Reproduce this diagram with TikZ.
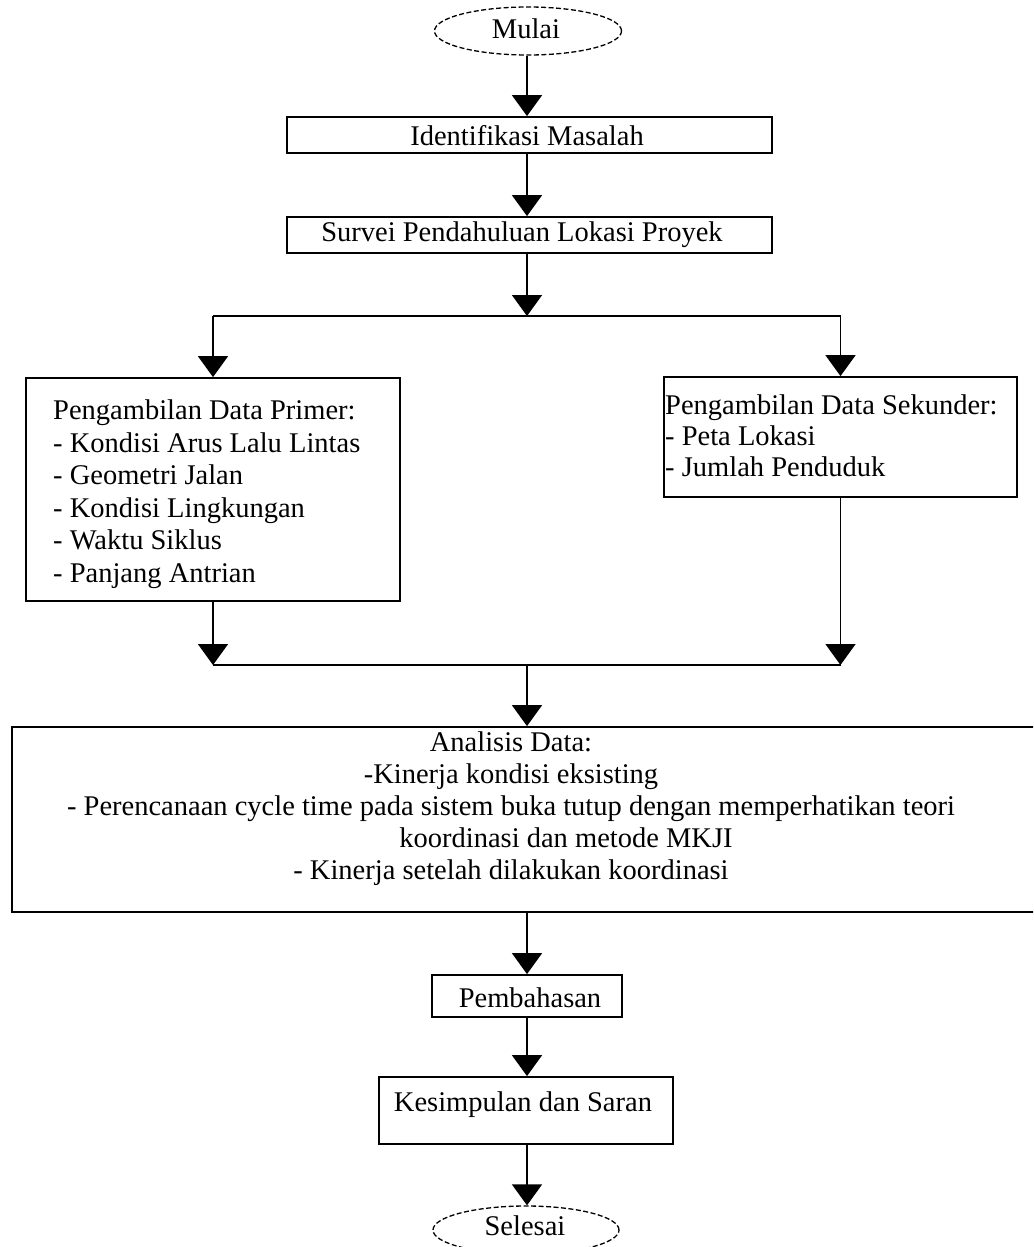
\documentclass[tikz,border=0pt]{standalone}
\usepackage{fontspec}
\setmainfont[Ligatures={NoCommon}]{Liberation Serif}
\usetikzlibrary{arrows.meta,shapes.geometric}
\tikzset{
  box/.style={draw=black, line width=1.8pt, rectangle, inner sep=0pt},
  term/.style={draw=black, line width=1.3pt, ellipse, inner sep=0pt, dash pattern=on 5pt off 2.5pt},
  txt/.style={inner sep=0pt, font=\fontsize{28.5}{32.5}\selectfont},
  arr/.style={line width=1.6pt, -{Triangle[width=30pt,length=21pt]}},
  ln/.style={line width=1.6pt}
}
\begin{document}
\begin{tikzpicture}[x=1pt,y=-1pt]
\clip (0,0) rectangle (1033,1247);
\fill[white] (0,0) rectangle (1033,1247);
% shapes
\node[term, minimum width=187pt, minimum height=48pt] (mulai) at (528,31) {};
\node[box, minimum width=485pt, minimum height=36pt] (ident) at (529.5,135) {};
\node[box, minimum width=485pt, minimum height=36pt] (survei) at (529.5,235) {};
\node[box, minimum width=374pt, minimum height=223pt] (primer) at (213,489.5) {};
\node[box, minimum width=353pt, minimum height=120pt] (sekunder) at (840.5,437) {};
\node[box, minimum width=1030pt, minimum height=185pt] (anl) at (527,819.5) {};
\node[box, minimum width=190pt, minimum height=42pt] (pemb) at (527,996) {};
\node[box, minimum width=294pt, minimum height=67pt] (kesim) at (526,1110.5) {};
\node[term, minimum width=186pt, minimum height=48pt] (selesai) at (526,1230) {};
% texts
\node[txt] (mulaitxt) at (526,29) {Mulai};
\node[txt] (identtxt) at (527,136) {Identifikasi Masalah};
\node[txt] (surveitxt) at (522,235) {Survei Pendahuluan Lokasi Proyek};
\node[txt, anchor=west, align=left] (primertxt) at (53,494) {Pengambilan Data Primer:\\- Kondisi Arus Lalu Lintas\\- Geometri Jalan\\- Kondisi Lingkungan\\- Waktu Siklus\\- Panjang Antrian};
\node[txt, anchor=west, align=left, font=\fontsize{28.5}{31}\selectfont] (sekundertxt) at (665,436) {Pengambilan Data Sekunder:\\- Peta Lokasi\\- Jumlah Penduduk};
\node[txt, align=center, font=\fontsize{28.5}{32}\selectfont] (anltxt) at (511,809) {Analisis Data:\\-Kinerja kondisi eksisting\\- Perencanaan cycle time pada sistem buka tutup dengan memperhatikan teori\\\hspace*{110pt}koordinasi dan metode MKJI\\- Kinerja setelah dilakukan koordinasi};
\node[txt] (pembtxt) at (530,998) {Pembahasan};
\node[txt] (kesimtxt) at (523,1105) {Kesimpulan dan Saran};
\node[txt] (selesaitxt) at (525,1226) {Selesai};
% junction points
\coordinate (split) at (527,316);
\coordinate (splitL) at (primer.north |- split);
\coordinate (splitR) at (sekunder.north |- split);
\coordinate (join) at (527,665);
\coordinate (joinL) at (primer.south |- join);
\coordinate (joinR) at (sekunder.south |- join);
% connectors
\draw[arr] (mulai.south -| split) -- (split |- ident.north);
\draw[arr] (split |- ident.south) -- (split |- survei.north);
\draw[arr] (split |- survei.south) -- (split);
\draw[ln] (splitL) -- (splitR);
\draw[arr] (splitL) -- (primer.north);
\draw[arr] (splitR) -- (sekunder.north);
\draw[arr] (primer.south) -- (joinL);
\draw[arr] (sekunder.south) -- (joinR);
\draw[ln] (joinL) -- (joinR);
\draw[arr] (join) -- (join |- anl.north);
\draw[arr] (anl.south -| join) -- (join |- pemb.north);
\draw[arr] (pemb.south -| join) -- (join |- kesim.north);
\draw[arr] (kesim.south -| join) -- (join |- selesai.north);
\end{tikzpicture}
\end{document}
